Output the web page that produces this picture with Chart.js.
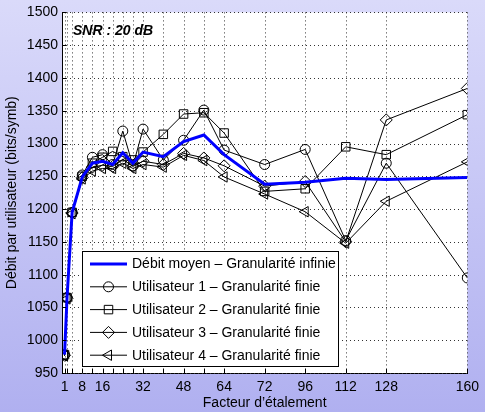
<!DOCTYPE html>
<html>
<head>
<meta charset="utf-8">
<script src="https://cdn.jsdelivr.net/npm/chart.js@4.4.0/dist/chart.umd.min.js"></script>
<style>
  html, body { margin: 0; padding: 0; }
</style>
</head>
<body>
<canvas id="chart" width="485" height="412"></canvas>
<script>
// spreading factors (x positions of the points and of the vertical grid)
const spreading = [1, 2, 4, 8, 12, 16, 20, 24, 28, 32, 40, 48, 56, 64, 80, 96, 112, 128, 160];

// throughput per user, bits/symb
const meanRate = [978, 1066, 1195, 1249, 1270, 1273, 1268, 1286, 1270, 1287, 1280, 1303, 1313, 1283, 1238, 1241, 1247, 1245, 1248];
const user1 = [978, 1065, 1195, 1252, 1279, 1283, 1268, 1319, 1266, 1322, 1275, 1305, 1351, 1290, 1268, 1291, 1152, 1270, 1095];
const user2 = [978, 1065, 1195, 1250, 1270, 1279, 1288, 1280, 1275, 1287, 1314, 1345, 1347, 1316, 1227, 1231, 1295, 1283, 1344];
const user3 = [977, 1064, 1194, 1248, 1264, 1267, 1265, 1276, 1265, 1273, 1268, 1285, 1278, 1266, 1235, 1242, 1150, 1336, 1384];
const user4 = [976, 1063, 1193, 1246, 1258, 1262, 1262, 1270, 1262, 1268, 1264, 1282, 1274, 1249, 1223, 1196, 1148, 1212, 1272];

const seriesNames = [
  'Débit moyen – Granularité infinie',
  'Utilisateur 1 – Granularité finie',
  'Utilisateur 2 – Granularité finie',
  'Utilisateur 3 – Granularité finie',
  'Utilisateur 4 – Granularité finie'
];

// labelled ticks on the x axis
const xTickValues = [1, 8, 16, 32, 48, 64, 80, 96, 112, 128, 160];
const xTickLabels = ['1', '8', '16', '32', '48', '64', '72', '96', '112', '128', '160'];

const FONT = '"Liberation Sans", Arial, Helvetica, sans-serif';
Chart.defaults.font.family = FONT;
Chart.defaults.font.size = 14;
Chart.defaults.color = '#000';

const pts = ys => spreading.map((x, i) => ({ x: x, y: ys[i] }));

function userSet(label, ys, style, radius, rotation) {
  return {
    label: label,
    data: pts(ys),
    borderColor: '#000',
    borderWidth: 1,
    pointStyle: style,
    pointRadius: radius,
    pointRotation: rotation || 0,
    pointBorderColor: '#000',
    pointBackgroundColor: 'rgba(0,0,0,0)',
    pointBorderWidth: 1,
    pointHoverRadius: radius
  };
}

// lavender figure background, white axes box, dotted grid
const background = {
  id: 'background',
  beforeDraw(chart) {
    const { ctx, width, height, chartArea: a } = chart;
    ctx.save();
    const g = ctx.createLinearGradient(0, 0, 0, height);
    g.addColorStop(0, '#dadafa');
    g.addColorStop(1, '#b0b0f0');
    ctx.fillStyle = g;
    ctx.fillRect(0, 0, width, height);
    ctx.fillStyle = '#fff';
    ctx.fillRect(a.left, a.top, a.right - a.left, a.bottom - a.top);
    ctx.restore();
  },
  beforeDatasetsDraw(chart) {
    const { ctx, chartArea: a, scales: { x, y } } = chart;
    ctx.save();
    ctx.strokeStyle = '#333';
    ctx.lineWidth = 1;
    ctx.setLineDash([1, 3]);
    ctx.beginPath();
    x.ticks.forEach(t => {
      const px = Math.round(x.getPixelForValue(t.value)) + 0.5;
      ctx.moveTo(px, a.top);
      ctx.lineTo(px, a.bottom);
    });
    y.ticks.forEach(t => {
      const py = Math.round(y.getPixelForValue(t.value)) + 0.5;
      ctx.moveTo(a.left, py);
      ctx.lineTo(a.right, py);
    });
    ctx.stroke();
    ctx.restore();
  }
};

// tick marks pointing into the plot, legend box and SNR note
const decorations = {
  id: 'decorations',
  afterDraw(chart) {
    const { ctx, chartArea: a, scales: { x, y } } = chart;
    ctx.save();
    ctx.strokeStyle = '#000';
    ctx.lineWidth = 1;
    ctx.beginPath();
    x.ticks.forEach(t => {
      const px = Math.round(x.getPixelForValue(t.value)) + 0.5;
      ctx.moveTo(px, a.bottom);
      ctx.lineTo(px, a.bottom - 4);
    });
    y.ticks.forEach(t => {
      const py = Math.round(y.getPixelForValue(t.value)) + 0.5;
      ctx.moveTo(a.left, py);
      ctx.lineTo(a.left + 4, py);
    });
    ctx.stroke();

    // legend
    const box = { left: 82.5, top: 251.5, right: 338.5, bottom: 366.5 };
    ctx.fillStyle = '#fff';
    ctx.fillRect(box.left, box.top, box.right - box.left, box.bottom - box.top);
    ctx.strokeRect(box.left, box.top, box.right - box.left, box.bottom - box.top);
    ctx.font = '14px ' + FONT;
    ctx.textBaseline = 'middle';
    ctx.textAlign = 'left';
    chart.data.datasets.forEach((ds, i) => {
      const cy = 264 + i * 22.8;
      ctx.strokeStyle = ds.borderColor;
      ctx.lineWidth = ds.borderWidth;
      ctx.beginPath();
      ctx.moveTo(90, cy);
      ctx.lineTo(127, cy);
      ctx.stroke();
      if (ds.pointRadius > 0) {
        ctx.lineWidth = 1;
        ctx.strokeStyle = '#000';
        ctx.fillStyle = 'rgba(0,0,0,0)';
        Chart.helpers.drawPoint(ctx, {
          pointStyle: ds.pointStyle,
          radius: ds.pointRadius,
          rotation: ds.pointRotation,
          borderWidth: 1
        }, 108.5, cy);
      }
      ctx.fillStyle = '#000';
      ctx.fillText(ds.label, 132, cy + 0.5);
    });

    ctx.font = 'italic bold 14px ' + FONT;
    ctx.fillText('SNR : 20 dB', 73, 31);
    ctx.restore();
  }
};

new Chart(document.getElementById('chart'), {
  type: 'line',
  data: {
    datasets: [
      {
        label: seriesNames[0],
        data: pts(meanRate),
        borderColor: '#0000ff',
        borderWidth: 3,
        pointRadius: 0,
        pointHoverRadius: 0
      },
      userSet(seriesNames[1], user1, 'circle', 5),
      userSet(seriesNames[2], user2, 'rect', 6),
      userSet(seriesNames[3], user3, 'rectRot', 6),
      userSet(seriesNames[4], user4, 'triangle', 6, -90)
    ]
  },
  options: {
    responsive: false,
    animation: false,
    layout: { padding: { top: 11, right: 13, left: 0, bottom: 0 } },
    plugins: {
      legend: { display: false },
      tooltip: { enabled: false }
    },
    scales: {
      x: {
        type: 'linear',
        min: 0,
        max: 160,
        afterFit: s => { s.height = 39; },
        afterBuildTicks: s => { s.ticks = spreading.map(v => ({ value: v })); },
        ticks: {
          autoSkip: false,
          maxRotation: 0,
          padding: 6,
          callback: v => {
            const k = xTickValues.indexOf(v);
            return k >= 0 ? xTickLabels[k] : '';
          }
        },
        grid: { display: false, drawTicks: false },
        border: { display: true, color: '#000', width: 1 },
        title: {
          display: true,
          text: 'Facteur d\u2019étalement',
          font: { size: 14 },
          padding: { top: 0, bottom: 0 }
        }
      },
      y: {
        min: 950,
        max: 1500,
        afterFit: s => { s.width = 62; },
        ticks: { stepSize: 50, padding: 4, callback: v => String(v) },
        grid: { display: false, drawTicks: false },
        border: { display: true, color: '#000', width: 1 },
        title: {
          display: true,
          text: 'Débit par utilisateur (bits/symb)',
          font: { size: 14 },
          padding: { top: 4, bottom: 0 }
        }
      }
    }
  },
  plugins: [background, decorations]
});
</script>
</body>
</html>
